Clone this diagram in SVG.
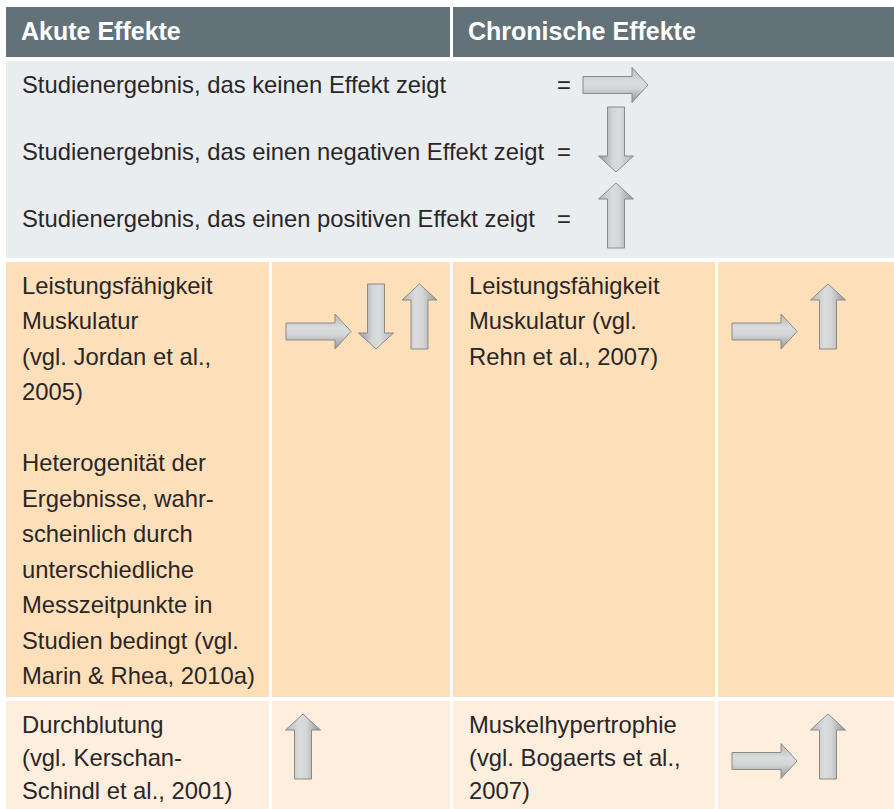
<svg xmlns="http://www.w3.org/2000/svg" width="894" height="809" viewBox="0 0 894 809">
  <style>
    .hdr { fill: #637279; }
    .leg { fill: #e9edf0; }
    .r1 { fill: #fde0b9; }
    .r2 { fill: #fdeedd; }
    .ht { font-family: "Liberation Sans", Arial, sans-serif; font-weight: bold; font-size: 25px; fill: #ffffff; }
    .t { font-family: "Liberation Sans", Arial, sans-serif; font-size: 23.8px; fill: #2a2627; }
    .arr { fill: url(#ag); stroke: #8d8a86; stroke-width: 1; }
  </style>
  <defs>
    <linearGradient id="ag" x1="0" y1="0" x2="0" y2="1">
      <stop offset="0" stop-color="#b5b7b9"/>
      <stop offset="0.4" stop-color="#dadcde"/>
      <stop offset="0.6" stop-color="#d3d5d7"/>
      <stop offset="1" stop-color="#949597"/>
    </linearGradient>
    <path id="arrow" class="arr" d="M0,-8.5 H49 V-17.5 L65,0 L49,17.5 V8.5 H0 Z"/>
  </defs>
  <rect width="894" height="809" fill="#ffffff"/>

  <g id="header-akut">
    <rect class="hdr" x="6" y="7" width="444" height="50"/>
    <text class="ht" x="21" y="40">Akute Effekte</text>
  </g>
  <g id="header-chronisch">
    <rect class="hdr" x="453" y="7" width="441" height="50"/>
    <text class="ht" x="468" y="40">Chronische Effekte</text>
  </g>

  <g id="legend">
    <rect class="leg" x="6" y="61" width="888" height="197"/>
    <text class="t" x="22" y="93">Studienergebnis, das keinen Effekt zeigt</text>
    <text class="t" x="22" y="160">Studienergebnis, das einen negativen Effekt zeigt</text>
    <text class="t" x="22" y="227">Studienergebnis, das einen positiven Effekt zeigt</text>
    <text class="t" x="557" y="93">=</text>
    <text class="t" x="557" y="160">=</text>
    <text class="t" x="557" y="227">=</text>
    <use href="#arrow" transform="translate(583,85)"/>
    <use href="#arrow" transform="translate(616,107) rotate(90)"/>
    <use href="#arrow" transform="translate(616,248) rotate(-90)"/>
  </g>

  <g id="akut-leistung">
    <rect class="r1" x="6" y="262" width="263" height="435"/>
    <text class="t" x="22" y="293.5">Leistungsfähigkeit</text>
    <text class="t" x="22" y="329">Muskulatur</text>
    <text class="t" x="22" y="364.5">(vgl. Jordan et al.,</text>
    <text class="t" x="22" y="400">2005)</text>
    <text class="t" x="22" y="471">Heterogenität der</text>
    <text class="t" x="22" y="506.5">Ergebnisse, wahr-</text>
    <text class="t" x="22" y="542">scheinlich durch</text>
    <text class="t" x="22" y="577.5">unterschiedliche</text>
    <text class="t" x="22" y="613">Messzeitpunkte in</text>
    <text class="t" x="22" y="648.5">Studien bedingt (vgl.</text>
    <text class="t" x="22" y="684">Marin &amp; Rhea, 2010a)</text>
  </g>
  <g id="akut-leistung-effekt">
    <rect class="r1" x="272" y="262" width="178" height="435"/>
    <use href="#arrow" transform="translate(286,331.5)"/>
    <use href="#arrow" transform="translate(376,284) rotate(90)"/>
    <use href="#arrow" transform="translate(419.5,349) rotate(-90)"/>
  </g>
  <g id="chron-leistung">
    <rect class="r1" x="453" y="262" width="262" height="435"/>
    <text class="t" x="469" y="293.5">Leistungsfähigkeit</text>
    <text class="t" x="469" y="329">Muskulatur (vgl.</text>
    <text class="t" x="469" y="364.5">Rehn et al., 2007)</text>
  </g>
  <g id="chron-leistung-effekt">
    <rect class="r1" x="718" y="262" width="176" height="435"/>
    <use href="#arrow" transform="translate(732,331.5)"/>
    <use href="#arrow" transform="translate(828,349) rotate(-90)"/>
  </g>

  <g id="akut-durchblutung">
    <rect class="r2" x="6" y="701" width="263" height="108"/>
    <text class="t" x="22" y="733">Durchblutung</text>
    <text class="t" x="22" y="766">(vgl. Kerschan-</text>
    <text class="t" x="22" y="799">Schindl et al., 2001)</text>
  </g>
  <g id="akut-durchblutung-effekt">
    <rect class="r2" x="272" y="701" width="178" height="108"/>
    <use href="#arrow" transform="translate(303,779) rotate(-90)"/>
  </g>
  <g id="chron-hypertrophie">
    <rect class="r2" x="453" y="701" width="262" height="108"/>
    <text class="t" x="469" y="733">Muskelhypertrophie</text>
    <text class="t" x="469" y="766">(vgl. Bogaerts et al.,</text>
    <text class="t" x="469" y="799">2007)</text>
  </g>
  <g id="chron-hypertrophie-effekt">
    <rect class="r2" x="718" y="701" width="176" height="108"/>
    <use href="#arrow" transform="translate(732,761)"/>
    <use href="#arrow" transform="translate(828,779) rotate(-90)"/>
  </g>
</svg>
